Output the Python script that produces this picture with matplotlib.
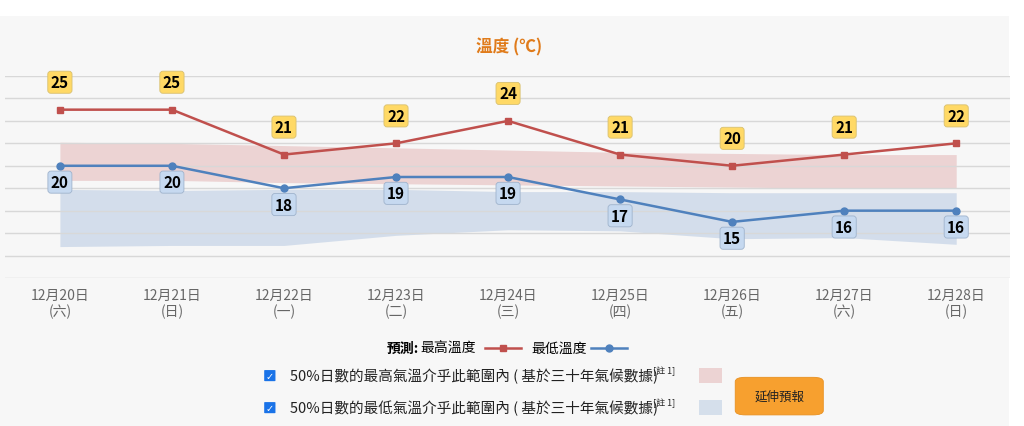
import matplotlib
matplotlib.use("Agg")
import matplotlib.pyplot as plt
from matplotlib.patches import FancyBboxPatch, Rectangle
from matplotlib.lines import Line2D

plt.rcParams['font.family'] = ['Noto Sans CJK TC', 'DejaVu Sans']

dates = ["12月20日", "12月21日", "12月22日", "12月23日", "12月24日",
         "12月25日", "12月26日", "12月27日", "12月28日"]
weekdays = ["(六)", "(日)", "(一)", "(二)", "(三)", "(四)", "(五)", "(六)", "(日)"]
max_temp = [25, 25, 21, 22, 24, 21, 20, 21, 22]
min_temp = [20, 20, 18, 19, 19, 17, 15, 16, 16]
max_band_hi = [22.1, 22.0, 21.8, 21.6, 21.4, 21.2, 21.1, 21.0, 21.0]
max_band_lo = [18.7, 18.7, 18.5, 18.4, 18.3, 18.2, 18.1, 18.0, 18.0]
min_band_hi = [17.9, 17.8, 17.9, 17.9, 17.7, 17.7, 17.6, 17.6, 17.6]
min_band_lo = [12.8, 12.9, 12.9, 13.8, 14.3, 14.2, 13.5, 13.6, 13.0]
band_labels = ["50%日數的最高氣溫介乎此範圍內 ( 基於三十年氣候數據)",
               "50%日數的最低氣溫介乎此範圍內 ( 基於三十年氣候數據)"]

red = "#c0504d"
blue = "#4f81bd"

fig = plt.figure(figsize=(10.24, 4.27), dpi=100, facecolor="white")
fig.patches.append(Rectangle((0, 0), 0.985, 0.96, transform=fig.transFigure,
                             facecolor="#f7f7f7", edgecolor="none", zorder=-10))
ax = fig.add_axes([5 / 1024, 1 - 279 / 427, 1005 / 1024, 202 / 427])
ax.set_facecolor("#f7f7f7")
x = list(range(len(dates)))

ax.fill_between(x, max_band_lo, max_band_hi, color="#e8c4c4", alpha=0.7, lw=0)
ax.fill_between(x, min_band_lo, min_band_hi, color="#c5d3e6", alpha=0.7, lw=0)
ax.plot(x, max_temp, color=red, lw=1.8, marker="s", ms=5)
ax.plot(x, min_temp, color=blue, lw=1.8, marker="o", ms=5)

for xi, v in zip(x, max_temp):
    ax.annotate(str(v), (xi, v), xytext=(0, 14), textcoords="offset points",
                ha="center", va="bottom", fontsize=11, fontweight="bold",
                bbox=dict(boxstyle="round,pad=0.2", fc="#ffd966", ec="#d8c070", lw=0.6))
for xi, v in zip(x, min_temp):
    ax.annotate(str(v), (xi, v), xytext=(0, -6), textcoords="offset points",
                ha="center", va="top", fontsize=11, fontweight="bold",
                bbox=dict(boxstyle="round,pad=0.2", fc="#c6d9f0", ec="#9fb3cc", lw=0.6))

ax.set_xlim(-0.49, 8.48)
ax.set_ylim(10, 28)
ax.set_yticks(range(10, 29, 2))
ax.yaxis.grid(True, color="#d8d8d8", lw=1)
ax.set_yticklabels([])
ax.tick_params(left=False, bottom=False)
for s in ax.spines.values():
    s.set_visible(False)
ax.set_xticks(x)
ax.set_xticklabels([d + "\n" + w for d, w in zip(dates, weekdays)],
                   color="#666666", fontsize=10, linespacing=1.2)

fig.text(0.497, 0.89, "溫度 (℃)", ha="center", va="center", color="#e07b1a",
         fontsize=12, fontweight="bold")

# legend
ly = 0.183
fig.text(0.378, ly, "預測:", fontsize=10, fontweight="bold", va="center")
fig.text(0.411, ly, "最高溫度", fontsize=10, va="center")
fig.add_artist(Line2D([0.474, 0.509], [ly, ly], color=red, lw=1.8,
                      transform=fig.transFigure))
fig.add_artist(Line2D([0.4915], [ly], color=red, marker="s", ms=5, lw=0,
                      transform=fig.transFigure))
fig.text(0.519, ly, "最低溫度", fontsize=10, va="center")
fig.add_artist(Line2D([0.577, 0.612], [ly, ly], color=blue, lw=1.8,
                      transform=fig.transFigure))
fig.add_artist(Line2D([0.5945], [ly], color=blue, marker="o", ms=5, lw=0,
                      transform=fig.transFigure))

for yy, txt, col in [(0.118, band_labels[0], "#ecd3d3"),
                     (0.043, band_labels[1], "#d5dfeb")]:
    fig.patches.append(FancyBboxPatch((0.259, yy - 0.012), 0.009, 0.024,
                                      boxstyle="round,pad=0.001", fc="#1a73e8",
                                      ec="none", transform=fig.transFigure))
    fig.text(0.2635, yy, "✓", color="white", fontsize=7, ha="center", va="center",
             family="DejaVu Sans", fontweight="bold")
    fig.text(0.283, yy, txt, fontsize=10.5, va="center", color="#222222")
    fig.text(0.638, yy + 0.012, "[註 1]", fontsize=6.5, va="center", color="#222222")
    fig.patches.append(Rectangle((0.683, yy - 0.017), 0.022, 0.034,
                                 transform=fig.transFigure, fc=col, ec="none"))

btn = FancyBboxPatch((0.722, 0.03), 0.078, 0.08,
                     boxstyle="round,pad=0.004,rounding_size=0.01",
                     fc="#f7a02f", ec="#e89020", lw=0.6, transform=fig.transFigure)
fig.patches.append(btn)
fig.text(0.761, 0.07, "延伸預報", ha="center", va="center", fontsize=9, color="#222222")

fig.savefig("out.png", dpi=100, facecolor="white")
